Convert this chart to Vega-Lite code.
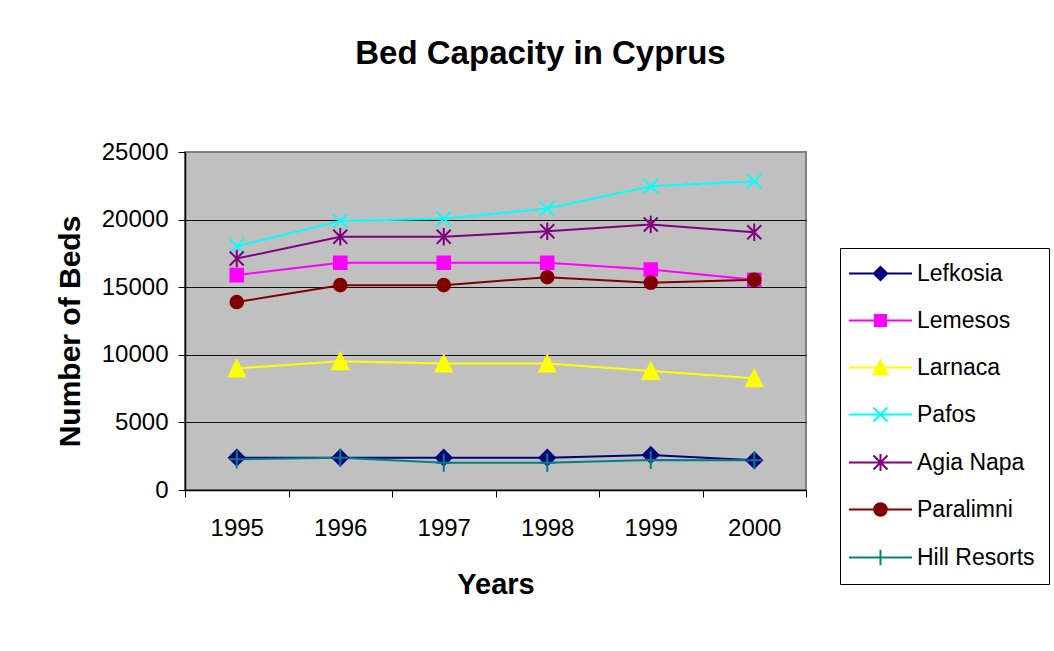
{
  "$schema": "https://vega.github.io/schema/vega-lite/v6.json",
  "autosize": "none",
  "width": 621,
  "height": 338,
  "padding": {"left": 185, "top": 152, "right": 248, "bottom": 161},
  "background": "white",
  "title": {
    "text": "Bed Capacity in Cyprus",
    "font": "Liberation Sans",
    "fontSize": 33,
    "fontWeight": "bold",
    "color": "black",
    "anchor": "middle",
    "frame": "group",
    "dx": 45,
    "offset": 69
  },
  "config": {
    "view": {"fill": "#C0C0C0", "stroke": "#808080", "strokeWidth": 2},
    "font": "Liberation Sans"
  },
  "data": {
    "values": [
      {"Year": "1995", "Series": "Lefkosia", "Beds": 2390},
      {"Year": "1996", "Series": "Lefkosia", "Beds": 2390},
      {"Year": "1997", "Series": "Lefkosia", "Beds": 2390},
      {"Year": "1998", "Series": "Lefkosia", "Beds": 2390},
      {"Year": "1999", "Series": "Lefkosia", "Beds": 2590},
      {"Year": "2000", "Series": "Lefkosia", "Beds": 2200},
      {"Year": "1995", "Series": "Lemesos", "Beds": 15890},
      {"Year": "1996", "Series": "Lemesos", "Beds": 16810},
      {"Year": "1997", "Series": "Lemesos", "Beds": 16810},
      {"Year": "1998", "Series": "Lemesos", "Beds": 16810},
      {"Year": "1999", "Series": "Lemesos", "Beds": 16310},
      {"Year": "2000", "Series": "Lemesos", "Beds": 15550},
      {"Year": "1995", "Series": "Larnaca", "Beds": 8990},
      {"Year": "1996", "Series": "Larnaca", "Beds": 9530},
      {"Year": "1997", "Series": "Larnaca", "Beds": 9360},
      {"Year": "1998", "Series": "Larnaca", "Beds": 9360},
      {"Year": "1999", "Series": "Larnaca", "Beds": 8800},
      {"Year": "2000", "Series": "Larnaca", "Beds": 8260},
      {"Year": "1995", "Series": "Pafos", "Beds": 18030},
      {"Year": "1996", "Series": "Pafos", "Beds": 19900},
      {"Year": "1997", "Series": "Pafos", "Beds": 20060},
      {"Year": "1998", "Series": "Pafos", "Beds": 20820},
      {"Year": "1999", "Series": "Pafos", "Beds": 22470},
      {"Year": "2000", "Series": "Pafos", "Beds": 22840},
      {"Year": "1995", "Series": "Agia Napa", "Beds": 17120},
      {"Year": "1996", "Series": "Agia Napa", "Beds": 18730},
      {"Year": "1997", "Series": "Agia Napa", "Beds": 18730},
      {"Year": "1998", "Series": "Agia Napa", "Beds": 19140},
      {"Year": "1999", "Series": "Agia Napa", "Beds": 19640},
      {"Year": "2000", "Series": "Agia Napa", "Beds": 19070},
      {"Year": "1995", "Series": "Paralimni", "Beds": 13900},
      {"Year": "1996", "Series": "Paralimni", "Beds": 15150},
      {"Year": "1997", "Series": "Paralimni", "Beds": 15150},
      {"Year": "1998", "Series": "Paralimni", "Beds": 15740},
      {"Year": "1999", "Series": "Paralimni", "Beds": 15330},
      {"Year": "2000", "Series": "Paralimni", "Beds": 15550},
      {"Year": "1995", "Series": "Hill Resorts", "Beds": 2270},
      {"Year": "1996", "Series": "Hill Resorts", "Beds": 2390},
      {"Year": "1997", "Series": "Hill Resorts", "Beds": 2020},
      {"Year": "1998", "Series": "Hill Resorts", "Beds": 2020},
      {"Year": "1999", "Series": "Hill Resorts", "Beds": 2220},
      {"Year": "2000", "Series": "Hill Resorts", "Beds": 2200}
    ]
  },
  "encoding": {
    "x": {
      "field": "Year",
      "type": "ordinal",
      "bandPosition": 0.5,
      "scale": {"type": "band", "paddingInner": 0, "paddingOuter": 0},
      "axis": {
        "title": "Years",
        "titleFont": "Liberation Sans",
        "titleFontSize": 29,
        "titleFontWeight": "bold",
        "titleColor": "black",
        "titleBaseline": "alphabetic",
        "titleY": 103,
        "labelAngle": 0,
        "labelFont": "Liberation Sans",
        "labelFontSize": 24,
        "labelColor": "black",
        "labelPadding": 19,
        "tickBand": "extent",
        "tickSize": 7,
        "tickColor": "black",
        "domainColor": "black",
        "domainWidth": 1.5,
        "grid": false
      }
    },
    "y": {
      "field": "Beds",
      "type": "quantitative",
      "scale": {"domain": [0, 25000], "nice": false},
      "axis": {
        "title": "Number of Beds",
        "titleFont": "Liberation Sans",
        "titleFontSize": 30,
        "titleFontWeight": "bold",
        "titleColor": "black",
        "titleBaseline": "alphabetic",
        "titleAngle": -90,
        "titleX": -106,
        "titleY": 179,
        "titleAlign": "center",
        "values": [0, 5000, 10000, 15000, 20000, 25000],
        "format": "d",
        "labelFont": "Liberation Sans",
        "labelFontSize": 24,
        "labelColor": "black",
        "labelPadding": 10,
        "tickSize": 7,
        "tickColor": "black",
        "domainColor": "black",
        "domainWidth": 1.5,
        "grid": true,
        "gridColor": {"condition": {"test": "datum.value === 25000", "value": "#808080"}, "value": "#111111"},
        "gridWidth": 1.2
      }
    },
    "color": {
      "field": "Series",
      "type": "nominal",
      "sort": ["Lefkosia", "Lemesos", "Larnaca", "Pafos", "Agia Napa", "Paralimni", "Hill Resorts"],
      "scale": {
        "domain": ["Lefkosia", "Lemesos", "Larnaca", "Pafos", "Agia Napa", "Paralimni", "Hill Resorts"],
        "range": ["#000080", "#FF00FF", "#FFFF00", "#00FFFF", "#800080", "#800000", "#008080"]
      },
      "legend": {
        "title": null,
        "orient": "none",
        "legendX": 655,
        "legendY": 96,
        "padding": 14,
        "strokeColor": "black",
        "fillColor": "white",
        "labelFont": "Liberation Sans",
        "labelFontSize": 23,
        "labelColor": "black",
        "labelLimit": 300,
        "labelOffset": 25,
        "symbolSize": 196,
        "symbolOffset": 15,
        "symbolStrokeWidth": 2,
        "rowPadding": 23,
        "encode": {
          "symbols": {
            "update": {
              "fill": {"scale": "color", "field": "value"},
              "stroke": {"scale": "color", "field": "value"},
              "strokeWidth": {"value": 2},
              "opacity": {"value": 1},
              "shape": {"signal": "datum.value === 'Lefkosia' ? 'M-4.5,0H4.5M0,-0.95L0.95,0L0,0.95L-0.95,0Z' : datum.value === 'Lemesos' ? 'M-4.5,0H4.5M-0.8,-0.8H0.8V0.8H-0.8Z' : datum.value === 'Larnaca' ? 'M-4.5,0H4.5M0,-1L1,1L-1,1Z' : datum.value === 'Pafos' ? 'M-4.5,0H4.5M-1,-1L1,1M-1,1L1,-1' : datum.value === 'Agia Napa' ? 'M-4.5,0H4.5M-1,-1L1,1M-1,1L1,-1M0,-1.2V1.2' : datum.value === 'Paralimni' ? 'M-4.5,0H4.5M0.9,0A0.9,0.9 0 1,1 -0.9,0A0.9,0.9 0 1,1 0.9,0Z' : 'M-4.5,0H4.5M0,-1.1V1.1'"}
            }
          }
        }
      }
    }
  },
  "layer": [
    {
      "mark": {"type": "line", "strokeWidth": 2}
    },
    {
      "mark": {
        "type": "point",
        "filled": true,
        "opacity": 1,
        "size": 196,
        "strokeWidth": 2,
        "shape": {"expr": "datum.Series === 'Lefkosia' ? 'M0,-1.1L1.1,0L0,1.1L-1.1,0Z' : datum.Series === 'Lemesos' ? 'M-0.9,-0.9H0.9V0.9H-0.9Z' : datum.Series === 'Larnaca' ? 'M0,-1.15L1.15,1.15L-1.15,1.15Z' : datum.Series === 'Pafos' ? 'M-1.05,-1.05L1.05,1.05M-1.05,1.05L1.05,-1.05' : datum.Series === 'Agia Napa' ? 'M-1,-1L1,1M-1,1L1,-1M0,-1.25V1.25' : datum.Series === 'Paralimni' ? 'M0.9,0A0.9,0.9 0 1,1 -0.9,0A0.9,0.9 0 1,1 0.9,0Z' : 'M-1.1,0H1.1M0,-1.3V1.3'"}
      },
      "encoding": {
        "stroke": {
          "field": "Series",
          "type": "nominal",
          "scale": {
            "domain": ["Lefkosia", "Lemesos", "Larnaca", "Pafos", "Agia Napa", "Paralimni", "Hill Resorts"],
            "range": ["#000080", "#FF00FF", "#FFFF00", "#00FFFF", "#800080", "#800000", "#008080"]
          },
          "legend": null
        }
      }
    }
  ]
}
